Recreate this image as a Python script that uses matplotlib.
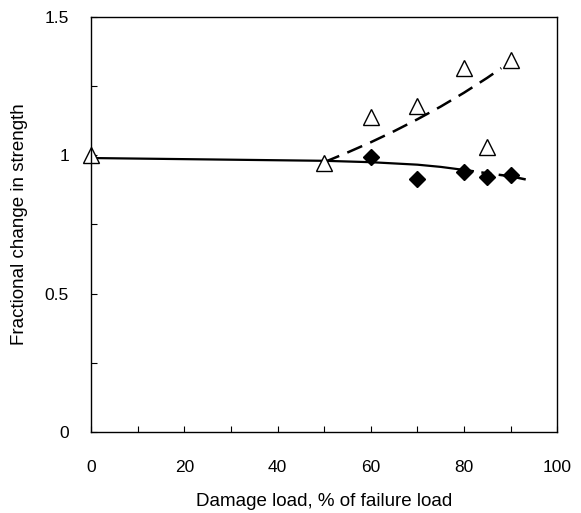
import matplotlib
matplotlib.use("Agg")
import matplotlib.pyplot as plt
from matplotlib.ticker import MultipleLocator

plt.rcParams['font.family'] = ['Liberation Sans', 'DejaVu Sans']

# measured points
load_tri = [0, 50, 60, 70, 80, 85, 90]
strength_tri = [1.0, 0.973, 1.138, 1.178, 1.317, 1.029, 1.344]
load_dia = [60, 70, 80, 85, 90]
strength_dia = [0.995, 0.914, 0.941, 0.923, 0.929]

# trend lines
solid_x = [0, 50, 60, 70, 75, 80]
solid_y = [0.99, 0.98, 0.975, 0.966, 0.958, 0.947]
tail_x = [80, 85, 90, 94]
tail_y = [0.947, 0.935, 0.924, 0.91]
upper_x = [50, 55, 60, 65, 70, 75, 80, 85, 88]
upper_y = [0.975, 1.01, 1.047, 1.087, 1.13, 1.176, 1.226, 1.28, 1.315]

fig = plt.figure(figsize=(5.81, 5.13), dpi=100)
ax = fig.add_axes([0.157, 0.158, 0.802, 0.809])

ax.plot(solid_x, solid_y, color='black', lw=1.6)
ax.plot(tail_x, tail_y, color='black', lw=1.8, dashes=(4, 3))
ax.plot(upper_x, upper_y, color='black', lw=1.8, dashes=(6.5, 3.5))

ax.plot(load_dia, strength_dia, linestyle='none', marker='D', ms=8,
        color='black', clip_on=False)
ax.plot(load_tri, strength_tri, linestyle='none', marker='^', ms=12,
        mfc='white', mec='black', mew=1.0, clip_on=False)

ax.set_xlim(0, 100)
ax.set_ylim(0, 1.5)
ax.xaxis.set_major_locator(MultipleLocator(20))
ax.xaxis.set_minor_locator(MultipleLocator(10))
ax.yaxis.set_minor_locator(MultipleLocator(0.25))
ax.set_yticks([0, 0.5, 1, 1.5])
ax.set_yticklabels(['0', '0.5', '1', '1.5'])

ax.tick_params(which='both', direction='in', length=4, width=0.8)
ax.tick_params(axis='x', which='major', pad=20, labelsize=12.5)
ax.tick_params(axis='y', which='major', pad=16, labelsize=12.5)

ax.set_xlabel('Damage load, % of failure load', fontsize=13.5, labelpad=13)
ax.set_ylabel('Fractional change in strength', fontsize=13.5, labelpad=12)

for s in ax.spines.values():
    s.set_linewidth(1.0)

fig.savefig('out.png', dpi=100)
